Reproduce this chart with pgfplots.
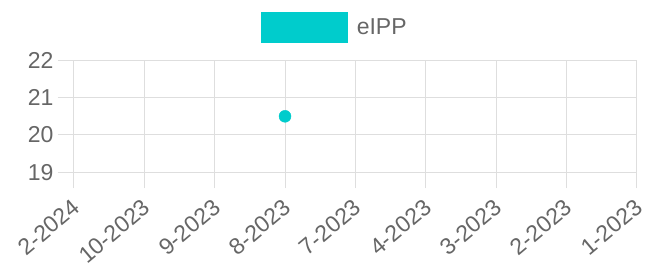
\documentclass[border=0pt]{standalone}
\usepackage{fontspec}
\setmainfont{Liberation Sans}
\usepackage{pgfplots}
\pgfplotsset{compat=1.18}
\definecolor{eipp}{RGB}{0,204,204}
\definecolor{gridc}{RGB}{222,222,222}
\definecolor{txt}{RGB}{102,102,102}
\begin{document}
\begin{tikzpicture}
\useasboundingbox (-74bp,-94.7bp) rectangle (588bp,172.3bp);
\begin{axis}[
 at={(0,0)}, anchor=south west,
 scale only axis, width=562.7bp, height=112bp,
 xmin=0, xmax=8, ymin=19, ymax=22,
 xtick={0,...,8},
 xticklabels={2-2024,10-2023,9-2023,8-2023,7-2023,4-2023,3-2023,2-2023,1-2023},
 ytick={19,20,21,22},
 grid=major, grid style={gridc, line width=1bp},
 axis line style={gridc, line width=1bp},
 tick align=outside, tick pos=left, major tick length=16bp,
 tick style={gridc, line width=1bp},
 ticklabel style={font=\fontsize{23bp}{27bp}\selectfont, text=txt},
 xticklabel style={rotate=40, anchor=north east, xshift=-5bp, yshift=-2bp},
 yticklabel style={anchor=east, xshift=-1bp},
 /pgf/number format/assume math mode=true,
 legend style={draw=none, fill=none, at={(axis description cs:0.4638,1.297)}, anchor=center,
   font=\fontsize{23bp}{27bp}\selectfont, text=txt,
   /tikz/every odd column/.append style={column sep=7bp}},
 legend image code/.code={\fill[eipp] (0bp,-15bp) rectangle (86bp,15bp);},
 clip=false,
]
\addplot[only marks, mark=*, mark size=6bp, color=eipp] coordinates {(3,20.5)};
\addlegendentry{eIPP}
\end{axis}
\end{tikzpicture}
\end{document}
